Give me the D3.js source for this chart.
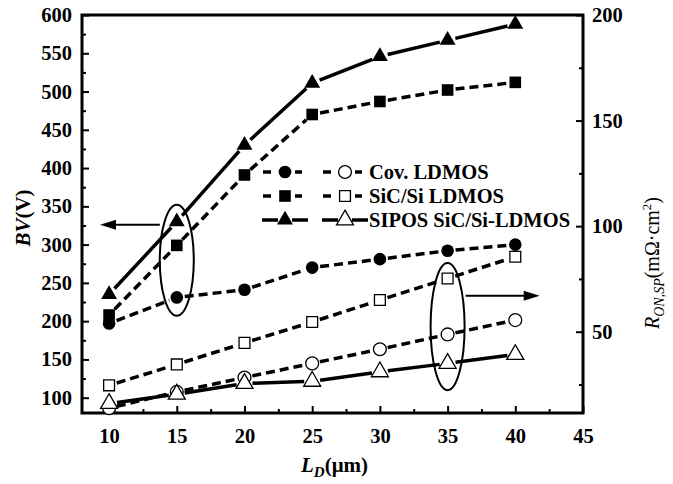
<!DOCTYPE html>
<html><head><meta charset="utf-8">
<script src="https://cdn.jsdelivr.net/npm/d3@7"></script>
<style>body{margin:0;background:#fff}</style>
</head><body>
<svg id="c" width="673" height="484"></svg>
<script>
// ---- data ----
const LD = [10, 15, 20, 25, 30, 35, 40];
const bvCov    = [197, 231, 241, 270, 281, 292, 300];
const bvSiCSi  = [208, 299, 391, 470, 487, 502, 512];
const bvSipos  = [235, 330, 430, 511, 546, 567, 588];
const ronCov   = [13.8, 21.5, 28.3, 35, 41.7, 48.7, 55.5];
const ronSiCSi = [24.6, 34.5, 44.7, 54.6, 65, 75.2, 85.5];
const ronSipos = [16, 20.4, 25.5, 26.5, 31, 35, 39.2];
const xTicks = [10, 15, 20, 25, 30, 35, 40, 45];
const xMinor = [12.5, 17.5, 22.5, 27.5, 32.5, 37.5, 42.5];
const yLTicks = [100, 150, 200, 250, 300, 350, 400, 450, 500, 550, 600];
const yLMinor = [125, 175, 225, 275, 325, 375, 425, 475, 525, 575];
const yRTicks = [50, 100, 150, 200];
const yRMinor = [25, 75, 125, 175];
const legendNames = ["Cov. LDMOS", "SiC/Si LDMOS", "SIPOS SiC/Si-LDMOS"];

// ---- layout ----
const m = {l: 82, r: 583, t: 15, b: 413};
const svg = d3.select("#c");
const font = "'Liberation Serif','Times New Roman',serif";
const x = d3.scaleLinear().domain([8, 45]).range([m.l, m.r]);
const yL = d3.scaleLinear().domain([80, 600]).range([m.b, m.t]);
const yR = d3.scaleLinear().domain([11.5, 200]).range([m.b, m.t]);

function styleAxis(g) {
  g.select(".domain").remove();
  g.selectAll("line").attr("stroke", "#000").attr("stroke-width", 2);
  g.selectAll("text").attr("font-family", font).attr("font-weight", "bold")
    .attr("font-size", 20.5).attr("fill", "#000");
}
const fmt = d3.format("d");
svg.append("g").attr("transform", `translate(0,${m.b})`)
  .call(d3.axisBottom(x).tickValues(xTicks).tickSize(-7).tickPadding(15).tickFormat(fmt)).call(styleAxis);
svg.append("g").attr("transform", `translate(0,${m.b})`)
  .call(d3.axisBottom(x).tickValues(xMinor).tickSize(-4).tickFormat("")).call(styleAxis);
svg.append("g").attr("transform", `translate(${m.l},0)`)
  .call(d3.axisLeft(yL).tickValues(yLTicks).tickSize(-7).tickPadding(10).tickFormat(fmt)).call(styleAxis);
svg.append("g").attr("transform", `translate(${m.l},0)`)
  .call(d3.axisLeft(yL).tickValues(yLMinor).tickSize(-4).tickFormat("")).call(styleAxis);
svg.append("g").attr("transform", `translate(${m.r},0)`)
  .call(d3.axisRight(yR).tickValues(yRTicks).tickSize(-7).tickPadding(9).tickFormat(fmt)).call(styleAxis);
svg.append("g").attr("transform", `translate(${m.r},0)`)
  .call(d3.axisRight(yR).tickValues(yRMinor).tickSize(-4).tickFormat("")).call(styleAxis);

// frame
svg.append("rect").attr("x", m.l).attr("y", m.t).attr("width", m.r - m.l).attr("height", m.b - m.t)
  .attr("fill", "none").attr("stroke", "#000").attr("stroke-width", 3);

// ---- series ----
const sym = {
  circle: d3.symbol().type(d3.symbolCircle).size(125),
  square: d3.symbol().type(d3.symbolSquare).size(135),
  triangle: d3.symbol().type(d3.symbolTriangle).size(110)
};
const symOpen = {
  circle: d3.symbol().type(d3.symbolCircle).size(130),
  square: d3.symbol().type(d3.symbolSquare).size(118),
  triangle: d3.symbol().type(d3.symbolTriangle).size(125)
};
const series = [
  {vals: bvCov, y: yL, dash: "9,5", shape: "circle", filled: true},
  {vals: bvSiCSi, y: yL, dash: "9,5", shape: "square", filled: true},
  {vals: bvSipos, y: yL, dash: null, shape: "triangle", filled: true},
  {vals: ronCov, y: yR, dash: "9,5", shape: "circle", filled: false},
  {vals: ronSiCSi, y: yR, dash: "9,5", shape: "square", filled: false},
  {vals: ronSipos, y: yR, dash: null, shape: "triangle", filled: false}
];
const gap = 8;
series.forEach(s => {
  const pts = LD.map((d, i) => [x(d), s.y(s.vals[i])]);
  const segs = d3.pairs(pts).map(([a, b]) => {
    const dx = b[0] - a[0], dy = b[1] - a[1], L = Math.hypot(dx, dy);
    const ux = dx / L, uy = dy / L;
    return [a[0] + ux * gap, a[1] + uy * gap, b[0] - ux * gap, b[1] - uy * gap];
  });
  svg.append("g").selectAll("line").data(segs).join("line")
    .attr("x1", d => d[0]).attr("y1", d => d[1]).attr("x2", d => d[2]).attr("y2", d => d[3])
    .attr("stroke", "#000").attr("stroke-width", 3.5)
    .attr("stroke-dasharray", s.dash);
});
series.forEach(s => {
  svg.append("g").selectAll("path").data(LD).join("path")
    .attr("transform", (d, i) => `translate(${x(d)},${s.y(s.vals[i])})`)
    .attr("d", s.filled ? sym[s.shape]() : symOpen[s.shape]())
    .attr("fill", s.filled ? "#000" : "#fff")
    .attr("stroke", "#000").attr("stroke-width", s.filled ? 0 : 1.3);
});

// ---- legend ----
const legRows = [172, 196, 220];
const shapes = ["circle", "square", "triangle"];
const lg = svg.append("g");
legRows.forEach((yy, i) => {
  [[285, true], [345, false]].forEach(([cx, filled]) => {
    if (i < 2) {
      lg.append("line").attr("x1", cx - 22).attr("x2", cx - 14).attr("y1", yy).attr("y2", yy)
        .attr("stroke", "#000").attr("stroke-width", 3.5);
      lg.append("line").attr("x1", cx + 10).attr("x2", cx + 17).attr("y1", yy).attr("y2", yy)
        .attr("stroke", "#000").attr("stroke-width", 3.5);
    } else {
      lg.append("line").attr("x1", cx - 23).attr("x2", cx - 7).attr("y1", yy).attr("y2", yy)
        .attr("stroke", "#000").attr("stroke-width", 3.5);
      lg.append("line").attr("x1", cx + 7).attr("x2", cx + 23).attr("y1", yy).attr("y2", yy)
        .attr("stroke", "#000").attr("stroke-width", 3.5);
    }
    lg.append("path").attr("transform", `translate(${cx},${yy})`)
      .attr("d", filled ? sym[shapes[i]]() : symOpen[shapes[i]]())
      .attr("fill", filled ? "#000" : "#fff").attr("stroke", "#000").attr("stroke-width", filled ? 0 : 1.3);
  });
  lg.append("text").attr("x", 369).attr("y", yy + 7).text(legendNames[i])
    .attr("font-family", font).attr("font-weight", "bold").attr("font-size", 20.5);
});

// ---- annotations ----
const ann = svg.append("g").attr("fill", "none").attr("stroke", "#000").attr("stroke-width", 2);
function ellipse(cxv, top, bot, ys, rx) {
  const t = ys(top), b = ys(bot);
  ann.append("ellipse").attr("cx", x(cxv)).attr("cy", (t + b) / 2).attr("rx", rx).attr("ry", (b - t) / 2);
}
ellipse(15, 352, 207, yL, 17);
ellipse(35, 82.5, 22.3, yR, 17);
function arrow(x1, x2, yy) {
  ann.append("line").attr("x1", x1).attr("x2", x2 + (x2 < x1 ? 12 : -12)).attr("y1", yy).attr("y2", yy);
  const d = x2 < x1 ? 1 : -1;
  svg.append("path").attr("d", `M${x2},${yy} L${x2 + d * 16},${yy - 5} L${x2 + d * 16},${yy + 5} Z`).attr("fill", "#000");
}
arrow(x(15) - 17, x(9.33), yL(326));
arrow(x(35) + 18, x(41.8), yR(67));

// ---- axis titles ----
const t1 = svg.append("text").attr("transform", `translate(30,${(m.t + m.b) / 2 + 4}) rotate(-90)`)
  .attr("text-anchor", "middle").attr("font-family", font).attr("font-weight", "bold").attr("font-size", 21);
t1.append("tspan").attr("font-style", "italic").text("BV");
t1.append("tspan").text("(V)");

const t2 = svg.append("text").attr("x", (m.l + m.r) / 2 + 2).attr("y", 472)
  .attr("text-anchor", "middle").attr("font-family", font).attr("font-weight", "bold").attr("font-size", 21);
t2.append("tspan").attr("font-style", "italic").text("L");
t2.append("tspan").attr("font-style", "italic").attr("font-size", 15).attr("dy", 5).text("D");
t2.append("tspan").attr("dy", -5).text("(μm)");

const t3 = svg.append("text").attr("transform", `translate(659,263) rotate(-90)`)
  .attr("text-anchor", "middle").attr("font-family", font).attr("font-size", 20);
t3.append("tspan").attr("font-style", "italic").text("R");
t3.append("tspan").attr("font-style", "italic").attr("font-size", 14).attr("dy", 5).text("ON,SP");
t3.append("tspan").attr("dy", -5).text("(mΩ·cm");
t3.append("tspan").attr("font-size", 13).attr("dy", -8).text("2");
t3.append("tspan").attr("dy", 8).text(")");
</script>
</body></html>
